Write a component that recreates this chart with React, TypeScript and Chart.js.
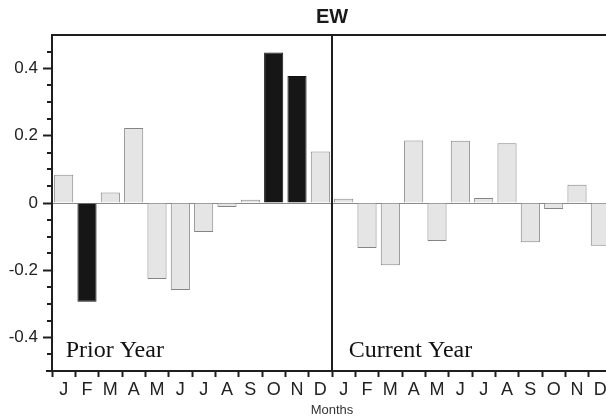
import React, { useEffect, useRef } from "react";
import { Chart, registerables } from "chart.js";

Chart.register(...registerables);

// ---- data ----
const months = ["J", "F", "M", "A", "M", "J", "J", "A", "S", "O", "N", "D"];
const priorYear = [0.084, -0.294, 0.031, 0.223, -0.226, -0.259, -0.086, -0.012, 0.01, 0.448, 0.378, 0.153];
const currentYear = [0.013, -0.134, -0.185, 0.186, -0.113, 0.185, 0.015, 0.178, -0.117, -0.018, 0.054, -0.127];
const priorHighlight = [false, true, false, false, false, false, false, false, false, true, true, false];
const currentHighlight = [false, false, false, false, false, false, false, false, false, false, false, false];
const yMajorTicks = [-0.4, -0.2, 0, 0.2, 0.4];
const yMinorStep = 0.05;
const periodLabels = ["Prior Year", "Current Year"];
const chartTitle = "EW";
const xTitle = "Months";

const SANS = "'Liberation Sans', Arial, Helvetica, sans-serif";
const SERIF = "'Liberation Serif', 'Times New Roman', serif";
const AXIS = "#1e1e1e";

export default function App() {
  const ref = useRef<HTMLCanvasElement | null>(null);

  useEffect(() => {
    const canvas = ref.current;
    if (!canvas) return;
    const labels = [...months, ...months];
    const values = [...priorYear, ...currentYear];
    const hl = [...priorHighlight, ...currentHighlight];

    const decor = {
      id: "decor",
      afterDraw(chart: any) {
        const { ctx, chartArea } = chart;
        const x = chart.scales.x;
        const y = chart.scales.y;
        ctx.save();
        ctx.strokeStyle = AXIS;
        ctx.lineWidth = 2;
        // minor y ticks
        for (let v = -0.45; v <= 0.451; v += yMinorStep) {
          const r = Math.round(v * 100) / 100;
          if (yMajorTicks.some((m) => Math.abs(m - r) < 1e-6)) continue;
          const py = Math.round(y.getPixelForValue(r));
          ctx.beginPath();
          ctx.moveTo(chartArea.left - 5, py);
          ctx.lineTo(chartArea.left, py);
          ctx.stroke();
        }
        // axis extension at corner
        ctx.beginPath();
        ctx.moveTo(chartArea.left - 6, chartArea.bottom);
        ctx.lineTo(chartArea.left, chartArea.bottom);
        ctx.stroke();
        // divider between years
        const dx = Math.round((x.getPixelForValue(months.length - 1) + x.getPixelForValue(months.length)) / 2);
        ctx.beginPath();
        ctx.moveTo(dx, chartArea.top);
        ctx.lineTo(dx, chartArea.bottom);
        ctx.stroke();
        // period labels
        ctx.fillStyle = "#111";
        ctx.font = `24px ${SERIF}`;
        ctx.textBaseline = "alphabetic";
        ctx.textAlign = "left";
        ctx.fillText(periodLabels[0], x.getPixelForValue(0) + 2, chartArea.bottom - 14);
        ctx.fillText(periodLabels[1], x.getPixelForValue(months.length) + 5, chartArea.bottom - 14);
        ctx.restore();
      },
    };

    const chart = new Chart(canvas, {
      type: "bar",
      data: {
        labels,
        datasets: [
          {
            data: values,
            backgroundColor: hl.map((h) => (h ? "#161616" : "#e5e5e5")),
            borderColor: hl.map((h) => (h ? "#111111" : "#858585")),
            borderWidth: 1,
            categoryPercentage: 1,
            barPercentage: 0.82,
          },
        ],
      },
      options: {
        responsive: false,
        animation: false,
        layout: { padding: { left: 0, right: 8, top: 0, bottom: 0 } },
        plugins: { legend: { display: false }, tooltip: { enabled: false }, title: { display: false } },
        scales: {
          x: {
            type: "category",
            position: "bottom",
            offset: true,
            grid: {
              display: true,
              drawOnChartArea: false,
              offset: true,
              tickLength: 6,
              tickWidth: 2,
              tickColor: AXIS,
            },
            border: { display: true, width: 2, color: AXIS },
            ticks: {
              autoSkip: false,
              maxRotation: 0,
              padding: 2,
              color: "#222",
              font: { family: SANS, size: 18 },
            },
            title: {
              display: true,
              text: xTitle,
              color: "#333",
              font: { family: SANS, size: 13 },
              padding: { top: 0, bottom: 1 },
            },
            afterFit: (s: any) => {
              s.height = 48;
            },
          },
          x2: {
            type: "category",
            position: "top",
            axis: "x",
            offset: true,
            grid: { display: false },
            border: { display: true, width: 2, color: AXIS },
            ticks: { display: false },
            title: {
              display: true,
              text: chartTitle,
              color: "#1a1a1a",
              font: { family: SANS, size: 20, weight: "bold" },
              padding: { top: 5, bottom: 6 },
            },
            afterFit: (s: any) => {
              s.height = 35;
            },
          },
          y: {
            type: "linear",
            min: -0.5,
            max: 0.5,
            afterBuildTicks: (s: any) => {
              s.ticks = yMajorTicks.map((v) => ({ value: v }));
            },
            grid: {
              display: true,
              drawOnChartArea: true,
              color: (c: any) => (c.tick && Math.abs(c.tick.value) < 1e-9 ? "#8a8a8a" : "rgba(0,0,0,0)"),
              lineWidth: 1,
              tickLength: 9,
              tickWidth: 2,
              tickColor: AXIS,
            },
            border: { display: true, width: 2, color: AXIS },
            ticks: {
              padding: 5,
              color: "#222",
              font: { family: SANS, size: 17 },
              callback: (v: any) => String(Math.round(Number(v) * 10) / 10),
            },
            afterFit: (s: any) => {
              s.width = 52;
            },
          },
        },
      },
      plugins: [decor],
    } as any);
    return () => chart.destroy();
  }, []);

  return (
    <div style={{ position: "fixed", left: 0, top: 0, width: 606, height: 419, overflow: "hidden", background: "#fff" }}>
      <canvas ref={ref} width={620} height={419} style={{ display: "block", width: 620, height: 419 }} />
    </div>
  );
}
